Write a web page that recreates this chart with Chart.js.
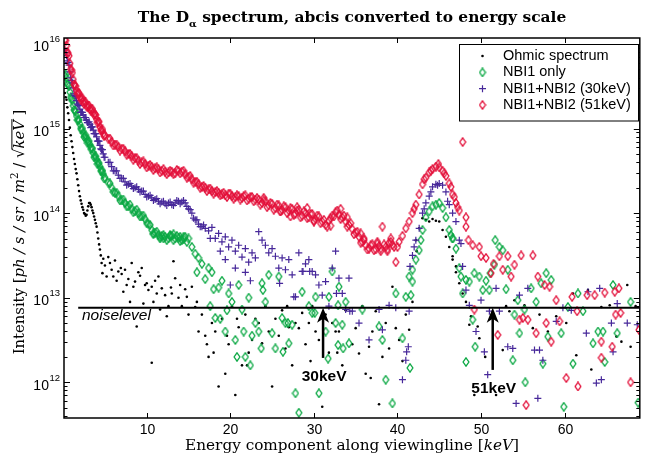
<!DOCTYPE html>
<html>
<head>
<meta charset="utf-8">
<script src="https://cdn.jsdelivr.net/npm/chart.js@4.4.1/dist/chart.umd.min.js"></script>
<style>
  html, body { margin: 0; padding: 0; background: #fff; }
</style>
</head>
<body>
<canvas id="myChart" width="645" height="456"></canvas>
<script>
// energy grid of the spectrometer, keV
var energy = [
  0.2, 0.4, 0.6, 0.8, 1.0, 1.2, 1.4, 1.6, 1.8, 2.0, 2.2, 2.4, 2.6, 2.8, 3.0, 3.2, 3.4, 3.6, 3.8, 4.0, 4.2, 4.4, 4.6, 4.8, 5.0,
  5.4, 5.8, 6.2, 6.6, 7.0, 7.4, 7.8, 8.2, 8.6, 9.0, 9.4, 9.8, 10.2, 10.6, 11.0, 11.4, 11.8, 12.2, 12.6, 13.0, 13.4, 13.8, 14.2, 14.6, 15.0,
  15.4, 15.8, 16.2, 16.6, 17.0, 17.4, 17.8, 18.2, 18.6, 19.0, 19.4, 19.8, 20.2, 20.6, 21.0, 21.4, 21.8, 22.2, 22.6, 23.0,
  23.4, 23.8, 24.2, 24.6, 25.0, 25.4, 25.8, 26.2, 26.6, 27.0, 27.4, 27.8, 28.2, 28.6, 29.0, 29.4, 29.8, 30.2, 30.6, 31.0,
  31.4, 31.8, 32.2, 32.6, 33.0, 33.4, 33.8, 34.2, 34.6, 35.0, 35.4, 35.8, 36.2, 36.6, 37.0, 37.4, 37.8, 38.2, 38.6, 39.0,
  39.4, 39.8, 40.2, 40.6, 41.0, 41.4, 41.8, 42.2, 42.6, 43.0, 43.4, 43.8, 44.2, 44.6, 45.0, 45.4, 45.8, 46.2, 46.6, 47.0,
  47.4, 47.8, 48.2
];
// in-between pixels where the bands are dense
var energyMid = [
  0.3, 0.5, 0.7, 0.9, 1.1, 1.3, 1.5, 1.7, 1.9, 2.1, 2.3, 2.5, 2.7, 2.9, 3.1, 3.3, 3.5, 3.7, 3.9, 4.1, 4.3, 4.5, 4.7, 4.9,
  5.6, 6.0, 6.4, 6.8, 7.2, 7.6, 8.0, 8.4, 8.8, 9.2, 9.6, 10.0, 10.4, 10.8, 11.2, 11.6, 12.0, 12.4, 12.8, 13.2, 13.6, 14.0, 14.4, 14.8,
  15.2, 15.6, 16.0, 16.4, 16.8,
  17.2, 17.6, 18.0, 18.4, 18.8, 19.2, 19.6, 20.0, 20.4, 20.8, 21.2, 21.6, 22.0, 22.4, 22.8, 23.2, 23.6, 24.0, 24.4, 24.8,
  25.2, 25.6, 26.0, 26.4, 26.8, 27.2, 27.6, 28.0, 28.4, 28.8, 29.2, 29.6, 30.0, 30.4, 30.8, 31.2, 31.6, 32.0, 32.4, 32.8,
  33.2, 33.6, 34.0, 34.4, 34.8, 35.2, 35.6, 36.0, 36.4, 36.8, 37.2, 37.6, 38.0, 38.4, 38.8, 39.2, 39.6
];

// log10 of intensity on the grid (null = no point shown)
var ohmicLog = [
  15.42, 15.34, 15.18, 15.01, 14.85, 14.71, 14.58, 14.47, 14.33, 14.2, 14.11, 14.04, 13.99, 13.98, 14.08, 14.12, 14.07, 14.0, 13.92, 13.84, 13.7, 13.57, 13.41, 13.46, 13.38,
  13.48, 13.33, 13.44, 13.31, 13.28, 13.33, 13.22, 13.41, 13.19, 13.3, 13.35, 13.15, 13.09, 13.13, 13.2, 13.25, 13.11, 13.03, 12.9, 13.05, 13.23, 13.0, 12.9, 13.1, 12.8,
  13.13, 12.89, 12.6, 12.8, 12.55, 12.3, 12.7, 12.6, 11.95, 12.75, 12.1, 12.45, 12.9, 11.85, 12.65, 12.2, 12.8, 12.35, 12.5, 12.75,
  12.7, 12.46, 12.9, 12.6, 11.95, 12.75, 12.55, 12.85, 12.4, 12.65, 12.2, 12.7, 12.64, 12.82, 12.45, 12.7, 12.9, 12.6, 12.5, 11.71,
  12.8, 12.35, 12.7, 12.6, 12.6, 12.2, 12.85, null, 12.45, 12.64, 12.34, 12.9, 12.1, 12.42, 12.6, 12.84, 11.74, 12.3, 12.7, 12.4,
  13.13, 12.64, 12.5, 12.25, 12.8, 12.62, 12.95, 13.68, 13.82, 13.94, 13.92, 13.9, 13.93, 13.91, 13.9, 13.8, 13.72, 13.6, 13.49, 13.37,
  13.17, 13.05, 12.95
];
var ohmicMid = [
  15.37, 15.25, 15.1, 14.92, 14.78, 14.64, 14.52, 14.4, 14.26, 14.15, 14.07, 14.0, 13.97, 14.03, 14.12, 14.1, 14.03, 13.96, 13.88, 13.77, 13.63, 13.5
];
var nbi1Log = [
  15.62, 15.6, 15.52, 15.43, 15.35, 15.27, 15.21, 15.15, 15.1, 15.05, 14.99, 14.95, 14.91, 14.88, 14.84, 14.81, 14.77, 14.71, 14.67, 14.63, 14.59, 14.55, 14.5, 14.46, 14.42,
  14.36, 14.3, 14.24, 14.2, 14.15, 14.12, 14.08, 14.05, 14.02, 14.0, 13.96, 13.93, 13.87, 13.8, 13.77, 13.74, 13.73, 13.72, 13.7, 13.73, 13.7, 13.71, 13.68, 13.72, 13.7,
  13.6, 13.52, 13.47, 13.4, 13.22, 13.35, 13.3, 12.76, 13.12, 13.2, 12.6, 13.05, 12.95, 12.5, 13.15, 12.86, 12.3, 13.0, 12.55, 12.7,
  12.6, 13.17, 12.95, 13.27, 12.58, 12.4, 13.25, 12.76, 12.7, 12.46, 12.68, 11.87, 11.64, 13.07, null, 12.9, 12.82, 13.01, 11.87, null,
  12.6, 13.01, 13.31, 12.7, 13.13, 12.68, 12.95, 12.46, null, null, null, 12.86, null, null, null, null, 12.66, 12.5, 12.03, null,
  11.75, 13.05, null, 12.52, 13.01, 13.25, 13.33, 13.45, 13.56, 13.8, 13.95, 14.02, 14.08, 14.1, 14.12, 14.06, 13.95, 13.8, 13.7, 13.58,
  13.35, 13.05, 13.21
];
var nbi1Mid = [
  15.64, 15.53, 15.5, 15.37, 15.33, 15.22, 15.2, 15.1, 15.1, 15.0, 15.0, 14.9, 14.92, 14.83, 14.85, 14.76, 14.76, 14.66, 14.67, 14.58, 14.59, 14.5, 14.5, 14.41,
  14.35, 14.25, 14.24, 14.15, 14.16, 14.08, 14.1, 14.01, 14.04, 13.96, 13.97, 13.88, 13.86, 13.75, 13.78, 13.7, 13.74, 13.68, 13.73, 13.68, 13.73, 13.67, 13.72, 13.66
];
var nbi30Log = [
  15.93, 15.86, 15.78, 15.67, 15.57, 15.48, 15.39, 15.33, 15.28, 15.23, 15.19, 15.16, 15.13, 15.1, 15.07, 15.05, 15.02, 14.98, 14.94, 14.9, 14.85, 14.8, 14.75, 14.7, 14.66,
  14.6, 14.55, 14.5, 14.45, 14.41, 14.37, 14.34, 14.32, 14.3, 14.28, 14.26, 14.22, 14.2, 14.18, 14.16, 14.14, 14.13, 14.11, 14.12, 14.1, 14.12, 14.14, 14.13, 14.12, 14.05,
  14.0, 13.92, 13.87, 13.84, 13.82, 13.79, 13.83, 13.7, 13.76, 13.66, 13.72, 13.6, 13.68, 13.55, 13.62, 13.48, 13.58, 13.42, 13.53, 13.47,
  13.78, 13.68, 13.62, 13.53, 13.58, 13.49, 13.35, 13.47, 13.33, 13.45, 13.27, 13.01, 13.53, 13.31, 13.4, 13.45, 13.31, 13.27, 13.15, 13.03,
  13.19, 12.9, 13.35, 13.55, 13.23, 13.05, 12.86, 13.23, 12.84, null, 12.7, null, null, 12.5, null, null, 12.86, 12.62, null, 12.91,
  null, 12.88, null, 12.03, 12.26, 12.84, 13.5, 13.68, 13.82, 14.0, 14.12, 14.2, 14.31, 14.34, 14.35, 14.33, 14.25, 14.1, 14.0, 13.9,
  13.68, 13.37, 13.09
];
var nbi30Mid = [
  15.9, 15.8, 15.75, 15.6, 15.54, 15.41, 15.38, 15.29, 15.27, 15.19, 15.19, 15.13, 15.13, 15.07, 15.08, 15.01, 15.02, 14.94, 14.94, 14.85, 14.85, 14.76, 14.75, 14.66,
  14.6, 14.5, 14.5, 14.41, 14.41, 14.33, 14.35, 14.29, 14.31, 14.25, 14.26, 14.19, 14.21, 14.15, 14.17, 14.11, 14.14, 14.09, 14.13, 14.09, 14.15, 14.11, 14.15, 14.08,
  14.04, 13.94, 13.92, 13.84, 13.86
];
var nbi51Log = [
  16.05, 15.98, 15.89, 15.77, 15.69, 15.58, 15.51, 15.45, 15.42, 15.37, 15.36, 15.32, 15.31, 15.27, 15.27, 15.23, 15.23, 15.19, 15.17, 15.11, 15.08, 15.02, 14.98, 14.94, 14.92,
  14.88, 14.84, 14.81, 14.78, 14.76, 14.73, 14.7, 14.67, 14.65, 14.62, 14.6, 14.58, 14.56, 14.55, 14.53, 14.52, 14.5, 14.49, 14.48, 14.49, 14.47, 14.5, 14.49, 14.46, 14.43,
  14.4, 14.37, 14.34, 14.31, 14.3, 14.28, 14.26, 14.25, 14.24, 14.22, 14.21, 14.23, 14.2, 14.19, 14.2, 14.18, 14.21, 14.17, 14.19, 14.16,
  14.16, 14.12, 14.14, 14.09, 14.11, 14.06, 14.09, 14.04, 14.07, 14.03, 14.05, 13.99, 14.04, 13.97, 14.0, 13.95, 13.99, 13.93, 13.96, 13.9,
  13.86, 13.91, 13.97, 14.01, 13.98, 13.95, 13.9, 13.86, 13.81, 13.77, 13.72, 13.66, 13.62, 13.58, 13.63, 13.57, 13.61, 13.84, 13.6, 13.65,
  13.62, 13.42, 13.66, 13.73, 13.82, 13.9, 14.0, 14.1, 14.22, 14.34, 14.42, 14.48, 14.52, 14.55, 14.54, 14.5, 14.44, 14.35, 14.22, 14.12,
  14.03, 14.84, 13.95
];
var nbi51Mid = [
  16.04, 15.9, 15.86, 15.7, 15.66, 15.52, 15.5, 15.41, 15.42, 15.34, 15.36, 15.29, 15.31, 15.25, 15.27, 15.21, 15.23, 15.16, 15.16, 15.07, 15.08, 14.98, 14.99, 14.91,
  14.88, 14.8, 14.81, 14.74, 14.76, 14.69, 14.7, 14.63, 14.65, 14.58, 14.61, 14.54, 14.57, 14.51, 14.54, 14.48, 14.52, 14.46, 14.5, 14.46, 14.51, 14.47, 14.5, 14.42,
  14.44, 14.36, 14.37, 14.3, 14.32,
  14.26, 14.29, 14.23, 14.26, 14.21, 14.24, 14.19, 14.23, 14.17, 14.21, 14.16, 14.2, 14.15, 14.19, 14.14, 14.18, 14.1, 14.15, 14.07, 14.12,
  14.04, 14.1, 14.02, 14.08, 14.0, 14.06, 13.98, 14.03, 13.95, 14.02, 13.94, 13.99, 13.91, 13.97, 13.88, 13.92, 13.84, 13.94, 13.96, 14.03,
  13.93, 13.97, 13.84, 13.88, 13.75, 13.78, 13.65, 13.68, 13.57, 13.62, 13.56, 13.64, 13.58, 13.63, 13.57, 13.66, 13.6
];

// extra scattered points off the grid and the high energy tail
var ohmicMoreE = [4.7, 5.2, 5.6, 6.0, 6.4, 6.9, 7.2, 7.6, 8.0, 8.4, 8.8, 9.2, 9.6, 10.0, 10.6, 10.8, 11.2, 11.6, 12.4, 12.9, 13.2, 14.0, 14.8, 16.0, 17.2, 18.0, 19.6, 20.8, 22.0,
  26.8, 29.6, 32.8, 36.8, 42.3, 46.6, 47.0,
  48.6, 48.8, 49.2, 49.6, 49.8, 50.5, 51.8, 52.6, 53.0, 53.4, 54.0, 55.2, 56.2, 57.0, 58.0, 59.0, 60.2, 61.0, 61.4, 62.8, 63.2, 64.4, 65.4, 66.2, 66.8, 67.5, 67.9, 68.5];
var ohmicMoreLog = [13.29, 13.25, 13.41, 13.25, 13.2, 13.35, 13.07, 13.15, 12.95, 13.13, 12.66, 13.26, 12.93, 13.17, 12.23, 12.95, 13.05, 12.86, 12.78, 13.12, 13.43, 13.15, 13.01, 12.95, 12.45, 12.35, 12.55, 12.75, 12.2,
  12.9, 12.25, 12.35, 12.05, 13.55, 13.45, 13.3,
  12.68, 12.78, 11.85, 12.66, 12.52, 12.3, 11.85, 12.38, 12.9, 12.84, 12.97, 12.91, 12.64, 12.8, 12.6, 12.78, 12.7, 13.05, 12.32, 13.09, 12.15, 12.89, 12.91, 12.54, 12.48, 13.15, 12.42, 12.9];

var nbi1MoreE = [10.8, 11.6, 12.0, 12.8, 13.2, 14.0, 14.4, 16.0, 17.6, 18.0, 18.8, 19.6, 20.8, 21.6, 22.4, 23.7, 23.9, 26.3, 26.9, 30.1, 31.7, 32.9, 32.9, 33.5, 41.5, 41.6, 41.8, 42.8, 46.4, 46.6, 47.6,
  48.2, 48.6, 49.0, 49.2, 49.3, 49.8, 50.2, 50.6, 51.0, 51.1, 51.6, 51.7, 52.2, 52.6, 53.0, 53.2, 53.8, 54.0, 54.4, 54.6, 55.2, 55.3, 56.0, 56.6, 57.2, 57.4, 57.8, 58.0, 58.4,
  59.6, 59.9, 60.4, 61.0, 61.6, 62.2, 63.4, 64.0, 64.6, 64.8, 65.8, 66.3, 67.9, 68.8];
var nbi1MoreLog = [13.76, 13.72, 13.7, 13.74, 13.75, 13.72, 13.69, 13.3, 12.9, 13.1, 12.75, 12.85, 12.3, 12.6, 12.2, 12.4, 13.09, 12.36, 12.7, 12.82, 12.28, 12.44, 12.91, 12.4, 12.17, 13.03, 13.19, 13.68, 13.74, 13.7, 13.25,
  12.24, 13.19, 12.74, 13.29, 12.42, 13.25, 13.09, 13.2, 13.09, 13.29, 13.39, 13.68, 13.6, 13.56, 13.1, 13.33, 12.26, 12.8, 12.97, 12.58, 12.86, 12.0, 13.11, 12.95, 13.17, 12.22, 13.29, 12.54, 13.21,
  12.58, 11.71, 12.89, 12.22, 13.05, 12.84, 12.46, 12.6, 12.6, 12.24, 13.15, 12.58, 12.95, 11.76];

var nbi30MoreE = [17.6, 18.8, 19.4, 20.0, 20.6, 21.8, 22.4, 25.9, 27.6, 28.7, 29.5, 32.7, 34.3, 41.1, 41.3, 41.5, 42.0, 43.2, 44.0, 44.8, 46.0, 47.6,
  48.6, 49.4, 50.0, 50.4, 50.8, 51.0, 51.8, 52.2, 53.2, 53.8, 54.2, 54.6, 55.6, 56.4, 56.8, 57.0, 57.4, 59.0, 59.8, 60.8, 62.6, 62.8, 63.8, 64.2, 64.4, 65.6, 65.8, 66.3, 67.5, 68.7];
var nbi30MoreLog = [13.7, 13.55, 13.45, 13.15, 13.35, 13.3, 13.2, 13.17, 13.01, 13.31, 13.31, 13.05, 12.84, 12.36, 12.42, 13.37, 13.6, 14.05, 14.25, 14.33, 14.14, 13.64,
  12.91, 12.6, 12.97, 12.36, 12.09, 12.84, 13.11, 12.84, 12.42, 12.4, 11.75, 13.03, 13.11, 12.38, 11.81, 12.38, 12.26, 12.72, 12.88, 12.85, 12.58, 13.07, 11.99, 13.11, 12.03, 12.7, 12.36, 12.93, 12.7, 12.68];

var nbi51MoreE = [24.0, 26.0, 27.2, 28.0, 29.2, 30.0, 32.0, 33.2, 34.0, 35.6, 36.0, 37.6, 38.0, 38.8, 39.2, 40.0, 42.0, 43.2, 44.0, 44.9, 45.6, 46.4, 46.8, 47.2,
  48.2, 48.5, 49.0, 49.2, 49.8, 50.0, 50.6, 51.2, 51.5, 52.0, 52.2, 52.6, 53.2, 53.6, 54.0, 54.6, 54.8, 55.0, 55.4, 55.6, 56.2, 56.6, 56.8, 57.6, 57.8, 58.2, 58.4, 59.0, 59.4,
  60.2, 60.9, 61.5, 61.6, 62.7, 63.6, 64.4, 64.4, 64.8, 65.7, 66.0, 66.1, 66.5, 66.7, 67.9, 68.9];
var nbi51MoreLog = [14.18, 14.02, 13.96, 14.07, 14.06, 13.9, 13.85, 14.05, 13.95, 13.76, 13.7, 13.66, 13.55, 13.55, 13.7, 13.6, 14.05, 14.4, 14.5, 14.58, 14.47, 14.31, 14.19, 14.07,
  13.84, 13.68, 13.62, 12.86, 13.6, 13.49, 13.47, 13.29, 13.4, 12.56, 13.49, 13.33, 13.49, 13.25, 13.39, 12.74, 13.5, 12.76, 11.73, 12.74, 13.5, 12.58, 13.25, 13.15, 12.7, 13.13, 12.48, 12.97, 12.72,
  12.05, 13.01, 12.84, 11.95, 13.03, 13.03, 12.48, 12.29, 13.06, 12.42, 13.07, 12.8, 13.11, 12.82, 12.0, 12.62];

var seriesNames = ["Ohmic spectrum", "NBI1 only", "NBI1+NBI2 (30keV)", "NBI1+NBI2 (51keV)"];
var xTicks = [10, 20, 30, 40, 50, 60];
var yTicks = [1e12, 1e13, 1e14, 1e15, 1e16];
var noiseLevel = 7.6e12;
var noiseFrom = 1.8;
var arrowE = [31.1, 51.4];
var arrowBase = [1.94e12, 1.4e12];
var arrowLabels = ["30keV", "51keV"];

var green = "#0aa843";
var purple = "#47289a";
var red = "#e3103a";

console.log(energy.length, ohmicLog.length, nbi1Log.length, nbi30Log.length, nbi51Log.length, energyMid.length, nbi51Mid.length);

function toPoints(eList, logList) {
  var pts = [];
  for (var i = 0; i < eList.length; i++) {
    if (logList[i] !== null && logList[i] !== undefined) {
      pts.push({ x: eList[i], y: Math.pow(10, logList[i]) });
    }
  }
  return pts;
}

function makeDiamond(color) {
  var c = document.createElement("canvas");
  c.width = 8;
  c.height = 10;
  var g = c.getContext("2d");
  g.strokeStyle = color;
  g.lineWidth = 1.3;
  g.beginPath();
  g.moveTo(4, 0.8);
  g.lineTo(6.9, 5);
  g.lineTo(4, 9.2);
  g.lineTo(1.1, 5);
  g.closePath();
  g.stroke();
  return c;
}

var greenDiamond = makeDiamond(green);
var redDiamond = makeDiamond(red);

var serif = '"DejaVu Serif", "Liberation Serif", serif';
var sans = '"Liberation Sans", Arial, sans-serif';

// text runs, one after another
function runsWidth(ctx, runs, size) {
  var w = 0;
  runs.forEach(function (r) {
    ctx.font = (r.italic ? "italic " : "") + (r.bold ? "bold " : "") + size * (r.scale || 1) + "px " + serif;
    w += ctx.measureText(r.t).width;
  });
  return w;
}

function drawRuns(ctx, runs, x, y, size) {
  runs.forEach(function (r) {
    ctx.font = (r.italic ? "italic " : "") + (r.bold ? "bold " : "") + size * (r.scale || 1) + "px " + serif;
    var w = ctx.measureText(r.t).width;
    ctx.fillText(r.t, x, y + (r.dy || 0) * size);
    if (r.over) {
      ctx.fillRect(x - 1, y - size * 0.85, w + 2, 1);
    }
    x += w;
  });
}

var decorPlugin = {
  id: "decor",
  afterDatasetsDraw: function (chart) {
    var ctx = chart.ctx;
    var xs = chart.scales.x;
    var ys = chart.scales.y;
    var a = chart.chartArea;
    ctx.save();
    ctx.fillStyle = "#000";
    ctx.strokeStyle = "#000";

    // arrows
    arrowE.forEach(function (e, i) {
      var x = xs.getPixelForValue(e);
      var yTip = ys.getPixelForValue(noiseLevel);
      var yBase = ys.getPixelForValue(arrowBase[i]);
      ctx.lineWidth = 2.5;
      ctx.beginPath();
      ctx.moveTo(x, yBase);
      ctx.lineTo(x, yTip + 10);
      ctx.stroke();
      ctx.beginPath();
      ctx.moveTo(x, yTip);
      ctx.lineTo(x - 6, yTip + 15);
      ctx.lineTo(x, yTip + 11);
      ctx.lineTo(x + 6, yTip + 15);
      ctx.closePath();
      ctx.fill();
      ctx.font = "bold 15.5px " + sans;
      ctx.textAlign = "center";
      ctx.textBaseline = "alphabetic";
      ctx.fillText(arrowLabels[i], x + 1, yBase + 23);
    });

    // noise level text
    ctx.font = "italic 15.5px " + sans;
    ctx.textAlign = "left";
    ctx.fillText("noiselevel", 82, ys.getPixelForValue(noiseLevel) + 12.5);

    // frame
    ctx.lineWidth = 1.5;
    ctx.strokeRect(a.left, a.top, a.right - a.left, a.bottom - a.top);

    // x ticks (inward, top and bottom) and labels
    ctx.lineWidth = 1;
    ctx.font = "14px " + sans;
    ctx.textAlign = "center";
    xTicks.forEach(function (t) {
      var x = Math.round(xs.getPixelForValue(t)) + 0.5;
      ctx.beginPath();
      ctx.moveTo(x, a.bottom);
      ctx.lineTo(x, a.bottom - 5);
      ctx.moveTo(x, a.top);
      ctx.lineTo(x, a.top + 5);
      ctx.stroke();
      ctx.fillText(String(t), x, a.bottom + 16);
    });

    // y ticks, major and minor, left and right
    yTicks.forEach(function (t) {
      for (var k = 1; k <= 9; k++) {
        var v = t * k;
        if (v < ys.min || v > ys.max) continue;
        var y = Math.round(ys.getPixelForValue(v)) + 0.5;
        var len = k === 1 ? 6 : 3.5;
        ctx.beginPath();
        ctx.moveTo(a.left, y);
        ctx.lineTo(a.left + len, y);
        ctx.moveTo(a.right, y);
        ctx.lineTo(a.right - len, y);
        ctx.stroke();
      }
      var yy = ys.getPixelForValue(t);
      var expo = String(Math.round(Math.log10(t)));
      ctx.textAlign = "right";
      ctx.font = "9.5px " + sans;
      var ew = ctx.measureText(expo).width;
      ctx.fillText(expo, 60, yy - 1.5);
      ctx.font = "14px " + sans;
      ctx.fillText("10", 60 - ew - 0.5, yy + 7.5);
    });
    [4e11, 5e11, 6e11, 7e11, 8e11, 9e11].forEach(function (v) {
      if (v < ys.min) return;
      var y = Math.round(ys.getPixelForValue(v)) + 0.5;
      ctx.beginPath();
      ctx.moveTo(a.left, y);
      ctx.lineTo(a.left + 3.5, y);
      ctx.moveTo(a.right, y);
      ctx.lineTo(a.right - 3.5, y);
      ctx.stroke();
    });

    // title
    ctx.textAlign = "left";
    var titleRuns = [
      { t: "The D", bold: true },
      { t: "\u03b1", bold: true, scale: 0.65, dy: 0.3 },
      { t: " spectrum, abcis converted to energy scale", bold: true }
    ];
    var ts = 20 * 429 / runsWidth(ctx, titleRuns, 20);
    drawRuns(ctx, titleRuns, 352 - runsWidth(ctx, titleRuns, ts) / 2, 22, ts);

    // x axis title
    var xRuns = [
      { t: "Energy component along viewingline " },
      { t: "[" },
      { t: "keV", italic: true },
      { t: "]" }
    ];
    var xsz = 20 * 334 / runsWidth(ctx, xRuns, 20);
    drawRuns(ctx, xRuns, 352 - runsWidth(ctx, xRuns, xsz) / 2, 450, xsz);

    // y axis title, rotated
    var yRuns = [
      { t: "Intensity " },
      { t: "[" },
      { t: "ph / s / sr / m", italic: true },
      { t: "2", scale: 0.7, dy: -0.4 },
      { t: " / \u221a" },
      { t: "keV", italic: true, over: true },
      { t: " ]" }
    ];
    var ysz = 20 * 245 / runsWidth(ctx, yRuns, 20);
    ctx.save();
    ctx.translate(24, 232);
    ctx.rotate(-Math.PI / 2);
    drawRuns(ctx, yRuns, -runsWidth(ctx, yRuns, ysz) / 2, 0, ysz);
    ctx.restore();

    // legend
    var lx = 459.5, ly = 44.5, lw = 179, lh = 76.5;
    ctx.fillStyle = "#fff";
    ctx.fillRect(lx, ly, lw, lh);
    ctx.strokeStyle = "#000";
    ctx.lineWidth = 1;
    ctx.strokeRect(lx, ly, lw, lh);
    ctx.font = "14.5px " + sans;
    ctx.textAlign = "left";
    ctx.textBaseline = "middle";
    var rows = [56, 72.4, 88.7, 105];
    chart.data.datasets.forEach(function (ds, i) {
      if (i > 3) return;
      var cy = rows[i];
      var mx = 482.5;
      if (i === 0) {
        ctx.fillStyle = "#000";
        ctx.beginPath();
        ctx.arc(mx, cy, 1.3, 0, Math.PI * 2);
        ctx.fill();
      } else if (i === 2) {
        ctx.strokeStyle = purple;
        ctx.lineWidth = 1.2;
        ctx.beginPath();
        ctx.moveTo(mx - 3.5, cy);
        ctx.lineTo(mx + 3.5, cy);
        ctx.moveTo(mx, cy - 3.5);
        ctx.lineTo(mx, cy + 3.5);
        ctx.stroke();
      } else {
        var img = i === 1 ? greenDiamond : redDiamond;
        ctx.drawImage(img, mx - 4, cy - 5);
      }
      ctx.fillStyle = "#000";
      ctx.fillText(ds.label, 503, cy);
    });
    ctx.restore();
  }
};

var ctx1 = document.getElementById("myChart").getContext("2d");
var myChart = new Chart(ctx1, {
  type: "scatter",
  data: {
    datasets: [
      {
        label: seriesNames[0],
        data: toPoints(energy, ohmicLog).concat(toPoints(energyMid, ohmicMid), toPoints(ohmicMoreE, ohmicMoreLog)),
        pointStyle: "circle",
        pointRadius: 1.3,
        borderWidth: 0,
        backgroundColor: "#000",
        order: 4
      },
      {
        label: seriesNames[1],
        data: toPoints(energy, nbi1Log).concat(toPoints(energyMid, nbi1Mid), toPoints(nbi1MoreE, nbi1MoreLog)),
        pointStyle: greenDiamond,
        pointRadius: 4,
        order: 3
      },
      {
        label: seriesNames[2],
        data: toPoints(energy, nbi30Log).concat(toPoints(energyMid, nbi30Mid), toPoints(nbi30MoreE, nbi30MoreLog)),
        pointStyle: "cross",
        pointRadius: 3.5,
        borderWidth: 1.2,
        borderColor: purple,
        order: 2
      },
      {
        label: seriesNames[3],
        data: toPoints(energy, nbi51Log).concat(toPoints(energyMid, nbi51Mid), toPoints(nbi51MoreE, nbi51MoreLog)),
        pointStyle: redDiamond,
        pointRadius: 4,
        order: 1
      },
      {
        type: "line",
        label: "noiselevel",
        data: [{ x: noiseFrom, y: noiseLevel }, { x: 69, y: noiseLevel }],
        borderColor: "#000",
        borderWidth: 2,
        pointRadius: 0,
        order: 0
      }
    ]
  },
  options: {
    responsive: false,
    animation: false,
    devicePixelRatio: 1,
    events: [],
    layout: { padding: { left: 64, right: 4, top: 38, bottom: 38 } },
    plugins: {
      legend: { display: false },
      tooltip: { enabled: false },
      title: { display: false }
    },
    scales: {
      x: { type: "linear", display: false, min: 0.1, max: 69 },
      y: { type: "logarithmic", display: false, min: 3.78e11, max: 1.175e16 }
    }
  },
  plugins: [decorPlugin]
});
</script>
</body>
</html>
